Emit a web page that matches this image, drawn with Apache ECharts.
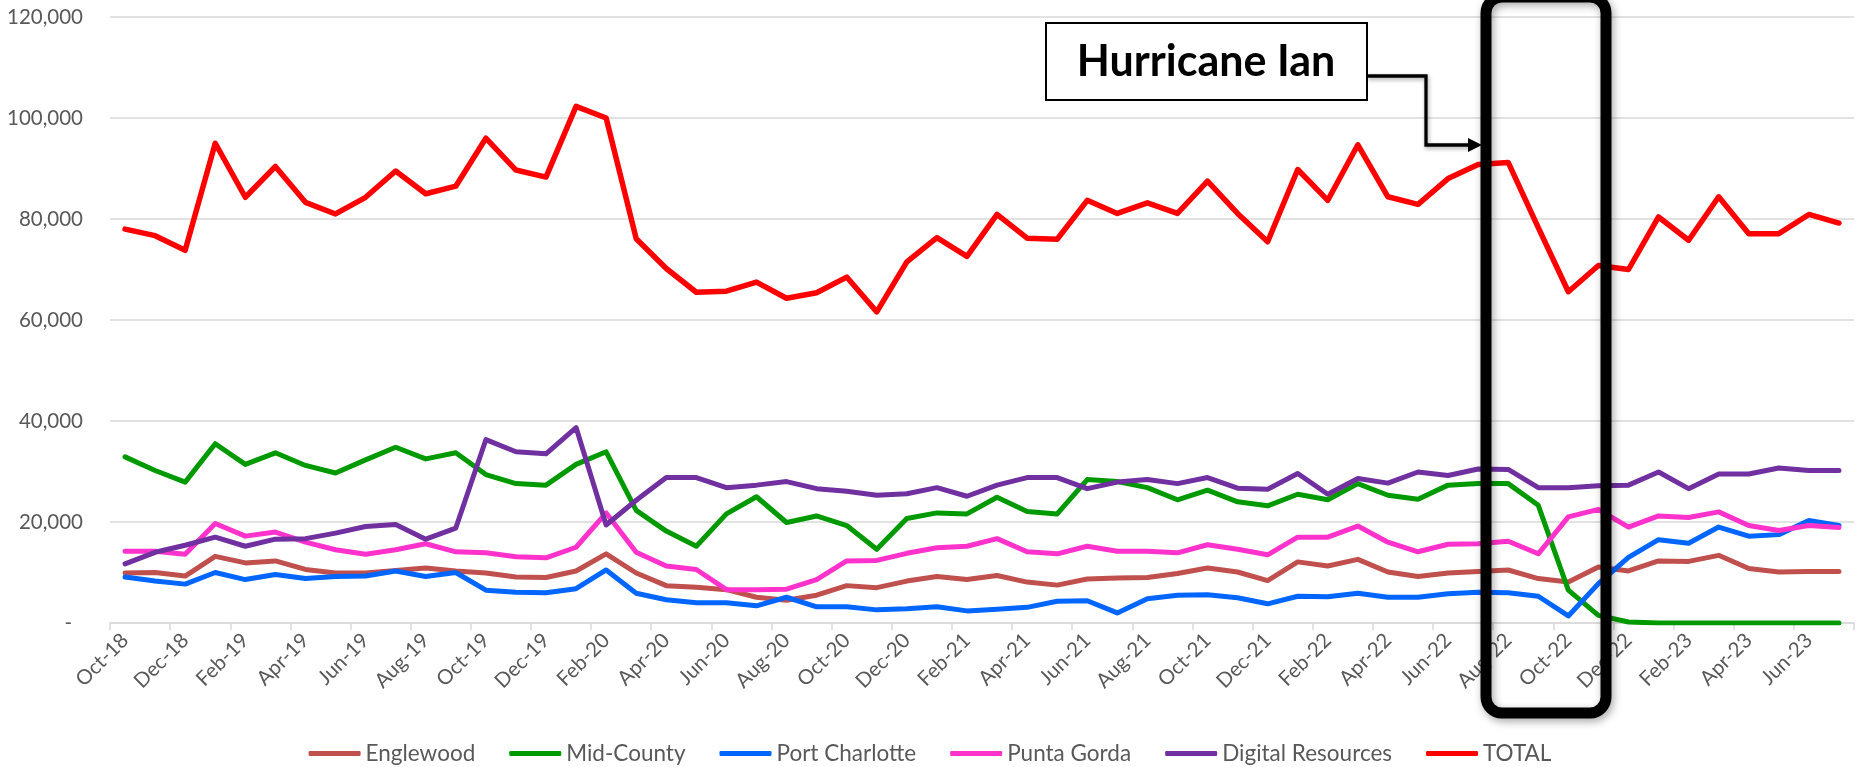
<!DOCTYPE html>
<html>
<head>
<meta charset="utf-8">
<title>Library Circulation by Branch</title>
<script src="https://cdn.jsdelivr.net/npm/echarts@6/dist/echarts.min.js"></script>
<style>
  html, body { margin: 0; padding: 0; background: #fff; }
  #chart { width: 1860px; height: 767px; }
</style>
</head>
<body>
<div id="chart"></div>
<script>
// Monthly categories, Oct 2018 through Jul 2023
const months = [
  'Oct-18','Nov-18','Dec-18','Jan-19','Feb-19','Mar-19','Apr-19','May-19','Jun-19','Jul-19','Aug-19','Sep-19',
  'Oct-19','Nov-19','Dec-19','Jan-20','Feb-20','Mar-20','Apr-20','May-20','Jun-20','Jul-20','Aug-20','Sep-20',
  'Oct-20','Nov-20','Dec-20','Jan-21','Feb-21','Mar-21','Apr-21','May-21','Jun-21','Jul-21','Aug-21','Sep-21',
  'Oct-21','Nov-21','Dec-21','Jan-22','Feb-22','Mar-22','Apr-22','May-22','Jun-22','Jul-22','Aug-22','Sep-22',
  'Oct-22','Nov-22','Dec-22','Jan-23','Feb-23','Mar-23','Apr-23','May-23','Jun-23','Jul-23'
];

const englewood = [
  9900,10000,9300,13200,11900,12300,10600,9900,9900,10400,10900,10300,
  9900,9100,9000,10300,13700,9900,7400,7100,6600,5100,4500,5500,
  7400,7000,8300,9200,8600,9400,8100,7500,8700,8900,9000,9800,
  10900,10100,8400,12100,11300,12600,10100,9200,9900,10200,10500,8800,
  8100,11100,10300,12300,12200,13400,10800,10100,10200,10200
];

const midCounty = [
  32900,30200,27900,35500,31400,33700,31200,29700,32300,34800,32500,33700,
  29400,27600,27300,31400,33900,22300,18200,15200,21600,25000,19900,21200,
  19300,14600,20700,21800,21600,24900,22100,21600,28400,28000,26800,24400,
  26300,24000,23200,25500,24400,27600,25300,24500,27300,27600,27600,23300,
  6500,1500,200,0,0,0,0,0,0,0
];

const portCharlotte = [
  9100,8300,7700,10000,8600,9600,8800,9200,9300,10300,9200,10000,
  6500,6100,6000,6800,10500,5900,4600,4000,4000,3400,5100,3200,
  3200,2600,2800,3200,2400,2700,3100,4300,4400,2000,4800,5500,
  5600,5000,3800,5300,5200,5900,5100,5100,5800,6100,6000,5300,
  1400,7800,13000,16500,15800,19000,17200,17500,20300,19300
];

const puntaGorda = [
  14200,14200,13600,19700,17200,18000,16000,14500,13600,14500,15700,14100,
  13900,13100,12900,15000,21800,14000,11300,10600,6600,6600,6700,8600,
  12300,12400,13800,14900,15200,16700,14100,13700,15200,14200,14200,13900,
  15500,14600,13500,17000,17000,19200,16000,14100,15600,15700,16200,13700,
  21000,22500,19000,21200,20900,22000,19300,18300,19300,18900
];

const digitalResources = [
  11700,14000,15400,17000,15200,16600,16700,17800,19100,19500,16600,18800,
  36300,33900,33500,38700,19400,24300,28800,28800,26800,27300,28000,26600,
  26100,25300,25600,26800,25100,27300,28800,28800,26600,27900,28400,27600,
  28800,26700,26500,29600,25500,28600,27700,29900,29200,30500,30400,26800,
  26800,27200,27300,29900,26600,29500,29500,30700,30200,30200
];

const total = [
  78000,76700,73800,95000,84300,90400,83300,81000,84300,89500,85000,86500,
  96000,89700,88300,102300,100000,76100,70200,65500,65700,67500,64300,65400,
  68500,61600,71500,76300,72600,80900,76200,76000,83700,81100,83200,81100,
  87500,81100,75500,89800,83700,94700,84400,82900,88000,90800,91200,78300,
  65600,70800,70000,80400,75800,84400,77100,77100,80900,79200
];

// Value axis ticks
const yTicks = [0, 20000, 40000, 60000, 80000, 100000, 120000];

const seriesDefs = [
  { name: 'Englewood',         data: englewood,        color: '#C0504D', width: 5 },
  { name: 'Mid-County',        data: midCounty,        color: '#009A00', width: 5 },
  { name: 'Port Charlotte',    data: portCharlotte,    color: '#0066FF', width: 5 },
  { name: 'Punta Gorda',       data: puntaGorda,       color: '#FF33CC', width: 5 },
  { name: 'Digital Resources', data: digitalResources, color: '#7030A0', width: 5 },
  { name: 'TOTAL',             data: total,            color: '#FF0000', width: 5.5 }
];

const FONT = 'Lato, "Open Sans", "DejaVu Sans", sans-serif';
const GREY = '#595959';

const chart = echarts.init(document.getElementById('chart'), null, { renderer: 'canvas' });

// Callout: label box, elbow connector and rounded frame around the storm months
const annotation = [
  {
    type: 'rect', z: 100,
    shape: { x: 1486, y: -3, width: 120, height: 716, r: 16 },
    style: {
      fill: 'none', stroke: '#000', lineWidth: 11,
      shadowBlur: 8, shadowColor: 'rgba(0,0,0,0.35)', shadowOffsetX: 2, shadowOffsetY: 3
    },
    silent: true
  },
  {
    type: 'polyline', z: 100,
    shape: { points: [[1367, 76], [1426, 76], [1426, 145], [1471, 145]] },
    style: {
      fill: null, stroke: '#000', lineWidth: 3.3,
      shadowBlur: 4, shadowColor: 'rgba(0,0,0,0.35)', shadowOffsetX: 1, shadowOffsetY: 2
    },
    silent: true
  },
  {
    type: 'polygon', z: 100,
    shape: { points: [[1468, 138], [1482, 145], [1468, 152]] },
    style: { fill: '#000' },
    silent: true
  },
  {
    type: 'rect', z: 101,
    shape: { x: 1046, y: 23, width: 321, height: 77 },
    style: { fill: '#fff', stroke: '#000', lineWidth: 2 },
    silent: true
  },
  {
    type: 'text', z: 102,
    x: 1206, y: 62,
    style: {
      text: 'Hurricane Ian',
      font: 'bold 43px ' + FONT,
      fill: '#000',
      align: 'center',
      verticalAlign: 'middle'
    },
    silent: true
  }
];

const option = {
  animation: false,
  backgroundColor: '#fff',
  textStyle: { fontFamily: FONT },
  grid: { left: 110, right: 6, top: 17, bottom: 144 },
  legend: {
    data: seriesDefs.map(s => s.name),
    left: 'center',
    top: 737,
    itemWidth: 52,
    itemHeight: 5,
    itemGap: 34,
    icon: 'roundRect',
    textStyle: { color: GREY, fontSize: 22.5, fontFamily: FONT }
  },
  xAxis: {
    type: 'category',
    data: months,
    boundaryGap: true,
    axisLine: { show: true, lineStyle: { color: '#D9D9D9', width: 1.5 } },
    axisTick: { show: true, interval: 1, length: 7, lineStyle: { color: '#D9D9D9', width: 1.5 } },
    axisLabel: {
      interval: 1,
      rotate: 45,
      margin: 14,
      color: GREY,
      fontSize: 20.5,
      fontFamily: FONT
    },
    splitLine: { show: false }
  },
  yAxis: {
    type: 'value',
    min: yTicks[0],
    max: yTicks[yTicks.length - 1],
    interval: yTicks[1] - yTicks[0],
    axisLine: { show: false },
    axisTick: { show: false },
    axisLabel: {
      margin: 27,
      color: GREY,
      fontSize: 20.5,
      fontFamily: FONT,
      formatter: v => v === 0 ? '{d|-}' : v.toLocaleString('en-US'),
      rich: { d: { color: GREY, fontSize: 20.5, fontFamily: FONT, padding: [0, 11, 0, 0] } }
    },
    splitLine: { show: true, lineStyle: { color: '#D9D9D9', width: 1.5 } }
  },
  series: seriesDefs.map(s => ({
    name: s.name,
    type: 'line',
    data: s.data,
    showSymbol: false,
    symbol: 'none',
    smooth: false,
    color: s.color,
    lineStyle: { color: s.color, width: s.width, join: 'round', cap: 'round' },
    emphasis: { disabled: true }
  })),
  graphic: annotation
};

chart.setOption(option);
</script>
</body>
</html>
